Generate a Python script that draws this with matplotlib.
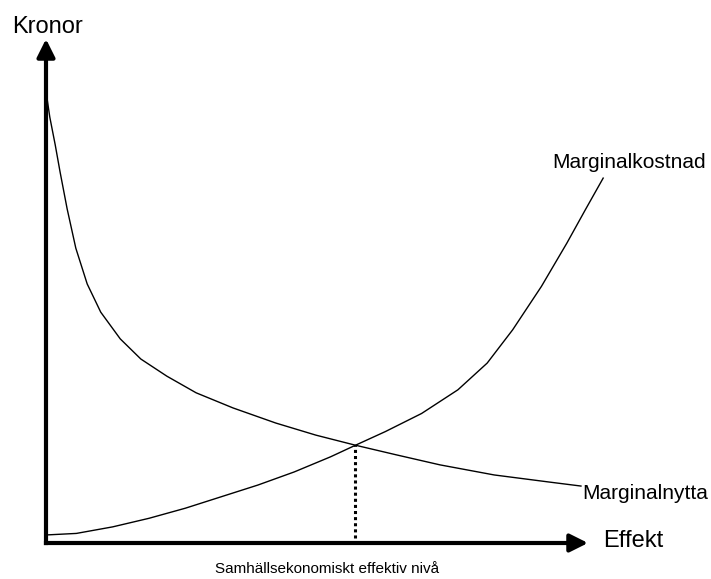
import matplotlib
matplotlib.use('Agg')
import matplotlib.pyplot as plt

# Curves (x = effekt, y = kronor, axes span 0..10)
nytta_x = [0.01, 0.07, 0.17, 0.26, 0.39, 0.55, 0.76, 1.01, 1.37, 1.75,
           2.23, 2.77, 3.45, 4.24, 4.98, 5.71, 6.46, 7.27, 8.27, 9.28, 9.87]
nytta_y = [8.89, 8.45, 7.90, 7.36, 6.63, 5.85, 5.14, 4.58, 4.05, 3.65,
           3.31, 2.98, 2.68, 2.38, 2.14, 1.94, 1.75, 1.55, 1.35, 1.21, 1.13]

kostnad_x = [0.01, 0.56, 1.23, 1.90, 2.57, 3.24, 3.91, 4.58, 5.25, 5.71,
             6.26, 6.93, 7.60, 8.14, 8.61, 9.14, 9.61, 9.95, 10.28]
kostnad_y = [0.16, 0.19, 0.32, 0.49, 0.69, 0.92, 1.15, 1.41, 1.71, 1.94,
             2.21, 2.57, 3.04, 3.57, 4.23, 5.09, 5.95, 6.61, 7.24]

# equilibrium (intersection of the two curves)
eq_x, eq_y = 5.71, 1.94

plt.rcParams['font.family'] = ['Liberation Sans', 'DejaVu Sans']

fig = plt.figure(figsize=(7.11, 5.79), dpi=100)
ax = fig.add_axes([46 / 711, 36 / 579, 542 / 711, 504 / 579])
ax.set_xlim(0, 10)
ax.set_ylim(0, 10)
ax.axis('off')

# axes drawn as thick lines with arrow heads
ax.plot([0, 9.8], [0, 0], color='black', lw=3, solid_capstyle='projecting',
        clip_on=False)
ax.plot([0, 0], [0, 9.8], color='black', lw=3, solid_capstyle='projecting',
        clip_on=False)
arrow = dict(arrowstyle='-|>,head_length=0.6,head_width=0.3', lw=3,
             color='black', mutation_scale=18, shrinkA=0, shrinkB=0)
ax.annotate('', xy=(10, 0), xytext=(9.6, 0), arrowprops=arrow,
            annotation_clip=False)
ax.annotate('', xy=(0, 10), xytext=(0, 9.6), arrowprops=arrow,
            annotation_clip=False)

ax.plot(nytta_x, nytta_y, color='black', lw=1.0, clip_on=False)
ax.plot(kostnad_x, kostnad_y, color='black', lw=1.0, clip_on=False)
ax.plot([eq_x, eq_x], [0.1, eq_y], color='black', lw=2.2,
        linestyle=(0, (1, 1)), clip_on=False)

ax.text(0.02, 10.11, 'Kronor', fontsize=17, ha='center', va='baseline')
ax.text(10.28, -0.07, 'Effekt', fontsize=17, ha='left', va='baseline')
ax.text(9.34, 7.44, 'Marginalkostnad', fontsize=15, ha='left', va='baseline')
ax.text(9.89, 0.87, 'Marginalnytta', fontsize=15, ha='left', va='baseline')
ax.text(5.18, -0.59, 'Samhällsekonomiskt effektiv nivå', fontsize=11,
        ha='center', va='baseline')

fig.savefig('out.png', dpi=100)
